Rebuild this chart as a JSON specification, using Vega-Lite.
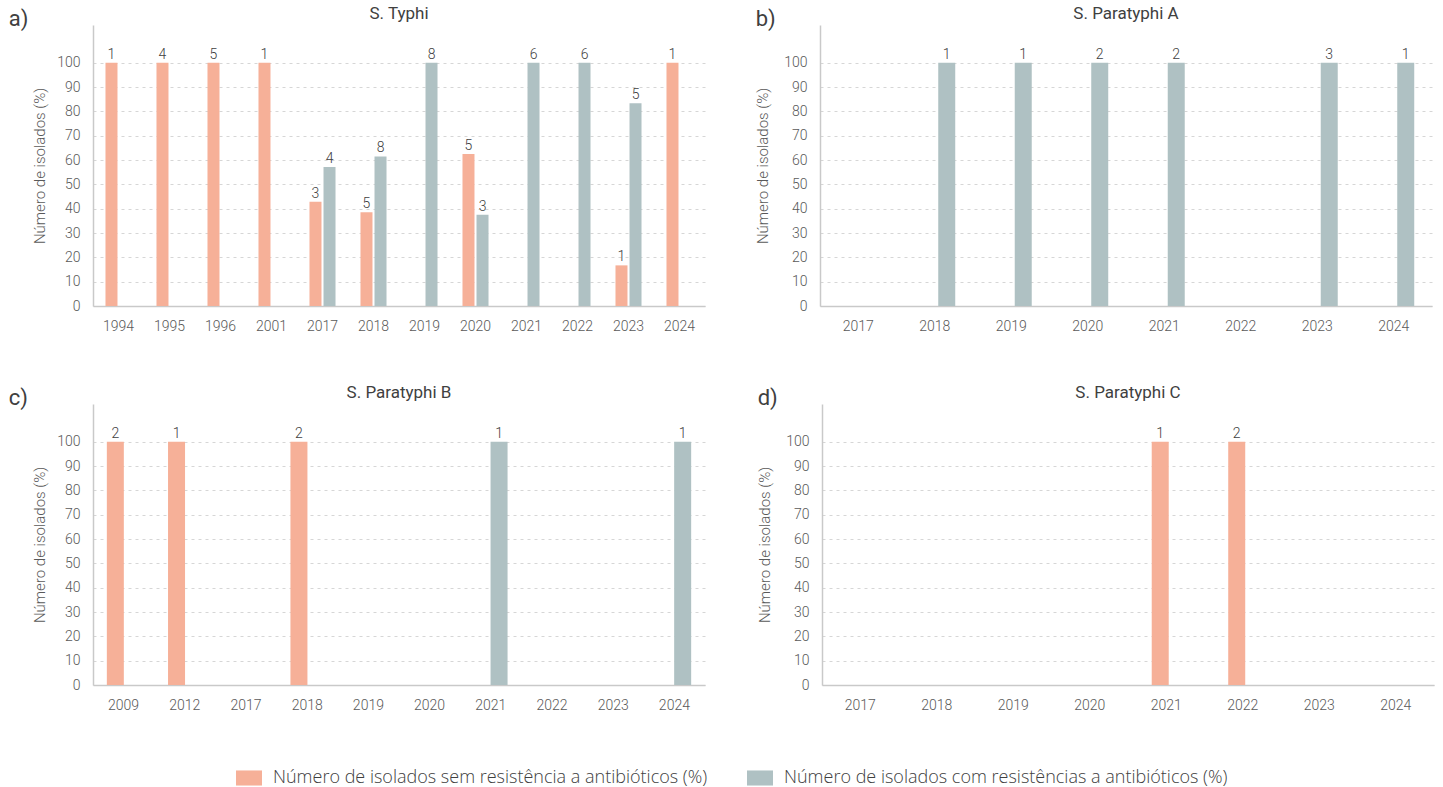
{
  "$schema": "https://vega.github.io/schema/vega-lite/v6.json",
  "padding": {"left": 8, "top": 5, "right": 5, "bottom": 3},
  "background": "white",
  "datasets": {
    "isolados": [
      {"panel": "a", "ano": "1994", "serie": "Número de isolados sem resistência a antibióticos (%)", "pct": 100, "n": 1},
      {"panel": "a", "ano": "1995", "serie": "Número de isolados sem resistência a antibióticos (%)", "pct": 100, "n": 4},
      {"panel": "a", "ano": "1996", "serie": "Número de isolados sem resistência a antibióticos (%)", "pct": 100, "n": 5},
      {"panel": "a", "ano": "2001", "serie": "Número de isolados sem resistência a antibióticos (%)", "pct": 100, "n": 1},
      {"panel": "a", "ano": "2017", "serie": "Número de isolados sem resistência a antibióticos (%)", "pct": 42.9, "n": 3},
      {"panel": "a", "ano": "2017", "serie": "Número de isolados com resistências a antibióticos (%)", "pct": 57.1, "n": 4},
      {"panel": "a", "ano": "2018", "serie": "Número de isolados sem resistência a antibióticos (%)", "pct": 38.5, "n": 5},
      {"panel": "a", "ano": "2018", "serie": "Número de isolados com resistências a antibióticos (%)", "pct": 61.5, "n": 8},
      {"panel": "a", "ano": "2019", "serie": "Número de isolados com resistências a antibióticos (%)", "pct": 100, "n": 8},
      {"panel": "a", "ano": "2020", "serie": "Número de isolados sem resistência a antibióticos (%)", "pct": 62.5, "n": 5},
      {"panel": "a", "ano": "2020", "serie": "Número de isolados com resistências a antibióticos (%)", "pct": 37.5, "n": 3},
      {"panel": "a", "ano": "2021", "serie": "Número de isolados com resistências a antibióticos (%)", "pct": 100, "n": 6},
      {"panel": "a", "ano": "2022", "serie": "Número de isolados com resistências a antibióticos (%)", "pct": 100, "n": 6},
      {"panel": "a", "ano": "2023", "serie": "Número de isolados sem resistência a antibióticos (%)", "pct": 16.7, "n": 1},
      {"panel": "a", "ano": "2023", "serie": "Número de isolados com resistências a antibióticos (%)", "pct": 83.3, "n": 5},
      {"panel": "a", "ano": "2024", "serie": "Número de isolados sem resistência a antibióticos (%)", "pct": 100, "n": 1},
      {"panel": "b", "ano": "2018", "serie": "Número de isolados com resistências a antibióticos (%)", "pct": 100, "n": 1},
      {"panel": "b", "ano": "2019", "serie": "Número de isolados com resistências a antibióticos (%)", "pct": 100, "n": 1},
      {"panel": "b", "ano": "2020", "serie": "Número de isolados com resistências a antibióticos (%)", "pct": 100, "n": 2},
      {"panel": "b", "ano": "2021", "serie": "Número de isolados com resistências a antibióticos (%)", "pct": 100, "n": 2},
      {"panel": "b", "ano": "2023", "serie": "Número de isolados com resistências a antibióticos (%)", "pct": 100, "n": 3},
      {"panel": "b", "ano": "2024", "serie": "Número de isolados com resistências a antibióticos (%)", "pct": 100, "n": 1},
      {"panel": "c", "ano": "2009", "serie": "Número de isolados sem resistência a antibióticos (%)", "pct": 100, "n": 2},
      {"panel": "c", "ano": "2012", "serie": "Número de isolados sem resistência a antibióticos (%)", "pct": 100, "n": 1},
      {"panel": "c", "ano": "2018", "serie": "Número de isolados sem resistência a antibióticos (%)", "pct": 100, "n": 2},
      {"panel": "c", "ano": "2021", "serie": "Número de isolados com resistências a antibióticos (%)", "pct": 100, "n": 1},
      {"panel": "c", "ano": "2024", "serie": "Número de isolados com resistências a antibióticos (%)", "pct": 100, "n": 1},
      {"panel": "d", "ano": "2021", "serie": "Número de isolados sem resistência a antibióticos (%)", "pct": 100, "n": 1},
      {"panel": "d", "ano": "2022", "serie": "Número de isolados sem resistência a antibióticos (%)", "pct": 100, "n": 2}
    ]
  },
  "resolve": {"scale": {"xOffset": "independent"}},
  "vconcat": [
    {
      "resolve": {"scale": {"xOffset": "independent"}},
      "hconcat": [
        {
          "title": {"text": "a)", "anchor": "start", "frame": "bounds", "fontSize": 22, "dx": -24, "dy": 28},
          "resolve": {"scale": {"xOffset": "independent"}},
          "vconcat": [
            {
              "width": 612, "height": 281,
              "data": {"name": "isolados"},
              "transform": [{"filter": "datum.panel === 'a'"}],
              "title": {"text": "S. Typhi"},
              "encoding": {
                "x": {"field": "ano", "type": "nominal", "sort": null, "title": null,
                      "scale": {"domain": ["1994", "1995", "1996", "2001", "2017", "2018", "2019", "2020", "2021", "2022", "2023", "2024"], "paddingInner": 0.45, "paddingOuter": 0.225}},
                "xOffset": {"field": "serie", "type": "nominal", "sort": null,
                            "scale": {"domain": ["Número de isolados sem resistência a antibióticos (%)", "Número de isolados com resistências a antibióticos (%)"], "paddingInner": 0, "paddingOuter": 0}},
                "y": {"field": "pct", "type": "quantitative", "title": "Número de isolados (%)",
                      "scale": {"domain": [0, 115.5], "nice": false},
                      "axis": {"values": [0, 10, 20, 30, 40, 50, 60, 70, 80, 90, 100]}}
              },
              "layer": [
                {"mark": {"type": "bar", "width": 12},
                 "encoding": {"color": {"field": "serie", "type": "nominal",
                   "scale": {"domain": ["Número de isolados sem resistência a antibióticos (%)", "Número de isolados com resistências a antibióticos (%)"], "range": ["#F6B098", "#AFC1C3"]},
                   "legend": {"orient": "none", "legendX": 143, "legendY": 740, "direction": "horizontal", "title": null}}}},
                {"mark": {"type": "text", "baseline": "bottom", "dy": -1, "fontSize": 14, "color": "#404040"},
                 "encoding": {"text": {"field": "n", "type": "quantitative"}}}
              ]
            }
          ]
        },
        {
          "title": {"text": "b)", "anchor": "start", "frame": "bounds", "fontSize": 22, "dx": 0, "dy": 28},
          "resolve": {"scale": {"xOffset": "independent"}},
          "vconcat": [
            {
              "width": 612, "height": 281,
              "data": {"name": "isolados"},
              "transform": [{"filter": "datum.panel === 'b'"}],
              "title": {"text": "S. Paratyphi A"},
              "encoding": {
                "x": {"field": "ano", "type": "nominal", "sort": null, "title": null,
                      "scale": {"domain": ["2017", "2018", "2019", "2020", "2021", "2022", "2023", "2024"], "paddingInner": 0.373, "paddingOuter": 0.1865}},
                "xOffset": {"field": "serie", "type": "nominal", "sort": null,
                            "scale": {"domain": ["Número de isolados sem resistência a antibióticos (%)", "Número de isolados com resistências a antibióticos (%)"], "paddingInner": 0, "paddingOuter": 0}},
                "y": {"field": "pct", "type": "quantitative", "title": "Número de isolados (%)",
                      "scale": {"domain": [0, 115.5], "nice": false},
                      "axis": {"values": [0, 10, 20, 30, 40, 50, 60, 70, 80, 90, 100], "titlePadding": 13}}
              },
              "layer": [
                {"mark": {"type": "bar", "width": 17},
                 "encoding": {"color": {"field": "serie", "type": "nominal",
                   "scale": {"domain": ["Número de isolados sem resistência a antibióticos (%)", "Número de isolados com resistências a antibióticos (%)"], "range": ["#F6B098", "#AFC1C3"]},
                   "legend": {"orient": "none", "legendX": 143, "legendY": 740, "direction": "horizontal", "title": null}}}},
                {"mark": {"type": "text", "baseline": "bottom", "dy": -1, "fontSize": 14, "color": "#404040"},
                 "encoding": {"text": {"field": "n", "type": "quantitative"}}}
              ]
            }
          ]
        }
      ],
      "spacing": 50
    },
    {
      "resolve": {"scale": {"xOffset": "independent"}},
      "hconcat": [
        {
          "title": {"text": "c)", "anchor": "start", "frame": "bounds", "fontSize": 22, "dx": -24, "dy": 28},
          "resolve": {"scale": {"xOffset": "independent"}},
          "vconcat": [
            {
              "width": 612, "height": 281,
              "data": {"name": "isolados"},
              "transform": [{"filter": "datum.panel === 'c'"}],
              "title": {"text": "S. Paratyphi B"},
              "encoding": {
                "x": {"field": "ano", "type": "nominal", "sort": null, "title": null,
                      "scale": {"domain": ["2009", "2012", "2017", "2018", "2019", "2020", "2021", "2022", "2023", "2024"], "paddingInner": 0.46, "paddingOuter": 0.23}},
                "xOffset": {"field": "serie", "type": "nominal", "sort": null,
                            "scale": {"domain": ["Número de isolados sem resistência a antibióticos (%)", "Número de isolados com resistências a antibióticos (%)"], "paddingInner": 0, "paddingOuter": 0}},
                "y": {"field": "pct", "type": "quantitative", "title": "Número de isolados (%)",
                      "scale": {"domain": [0, 115.5], "nice": false},
                      "axis": {"values": [0, 10, 20, 30, 40, 50, 60, 70, 80, 90, 100]}}
              },
              "layer": [
                {"mark": {"type": "bar", "width": 17},
                 "encoding": {"color": {"field": "serie", "type": "nominal",
                   "scale": {"domain": ["Número de isolados sem resistência a antibióticos (%)", "Número de isolados com resistências a antibióticos (%)"], "range": ["#F6B098", "#AFC1C3"]},
                   "legend": {"orient": "none", "legendX": 143, "legendY": 740, "direction": "horizontal", "title": null}}}},
                {"mark": {"type": "text", "baseline": "bottom", "dy": -1, "fontSize": 14, "color": "#404040"},
                 "encoding": {"text": {"field": "n", "type": "quantitative"}}}
              ]
            }
          ]
        },
        {
          "title": {"text": "d)", "anchor": "start", "frame": "bounds", "fontSize": 22, "dx": 0, "dy": 28},
          "resolve": {"scale": {"xOffset": "independent"}},
          "vconcat": [
            {
              "width": 612, "height": 281,
              "data": {"name": "isolados"},
              "transform": [{"filter": "datum.panel === 'd'"}],
              "title": {"text": "S. Paratyphi C"},
              "encoding": {
                "x": {"field": "ano", "type": "nominal", "sort": null, "title": null,
                      "scale": {"domain": ["2017", "2018", "2019", "2020", "2021", "2022", "2023", "2024"], "paddingInner": 0.685, "paddingOuter": 0.3425}},
                "xOffset": {"field": "serie", "type": "nominal", "sort": null,
                            "scale": {"domain": ["Número de isolados sem resistência a antibióticos (%)", "Número de isolados com resistências a antibióticos (%)"], "paddingInner": 0, "paddingOuter": 0}},
                "y": {"field": "pct", "type": "quantitative", "title": "Número de isolados (%)",
                      "scale": {"domain": [0, 115.5], "nice": false},
                      "axis": {"values": [0, 10, 20, 30, 40, 50, 60, 70, 80, 90, 100], "titlePadding": 13}}
              },
              "layer": [
                {"mark": {"type": "bar", "width": 17},
                 "encoding": {"color": {"field": "serie", "type": "nominal",
                   "scale": {"domain": ["Número de isolados sem resistência a antibióticos (%)", "Número de isolados com resistências a antibióticos (%)"], "range": ["#F6B098", "#AFC1C3"]},
                   "legend": {"orient": "none", "legendX": 143, "legendY": 740, "direction": "horizontal", "title": null}}}},
                {"mark": {"type": "text", "baseline": "bottom", "dy": -1, "fontSize": 14, "color": "#404040"},
                 "encoding": {"text": {"field": "n", "type": "quantitative"}}}
              ]
            }
          ]
        }
      ],
      "spacing": 52
    }
  ],
  "spacing": 51,
  "config": {
    "font": "Roboto",
    "view": {"stroke": null},
    "title": {"fontSize": 17, "fontWeight": "normal", "color": "#404040", "offset": 2},
    "text": {"font": "Roboto", "fontWeight": 300},
    "axis": {"labelFont": "Roboto", "labelFontSize": 14, "labelColor": "#595959", "labelFontWeight": 300,
             "titleFont": "Roboto", "titleFontSize": 15, "titleFontWeight": 300, "titleColor": "#595959",
             "domainColor": "#c9c9c9", "domainWidth": 1.5, "ticks": false},
    "axisY": {"gridDash": [3, 4], "gridColor": "#d6d6d6", "gridWidth": 1, "labelPadding": 13, "titlePadding": 9},
    "axisX": {"grid": false, "labelPadding": 13, "labelAngle": 0},
    "legend": {"labelFont": "Open Sans", "labelFontSize": 18, "labelFontWeight": 300, "labelColor": "#404040",
               "symbolType": "M-1,-0.58H1V0.58H-1Z", "symbolSize": 676, "symbolStrokeWidth": 0,
               "labelOffset": 11, "columnPadding": 39, "padding": 0, "labelLimit": 600}
  }
}
